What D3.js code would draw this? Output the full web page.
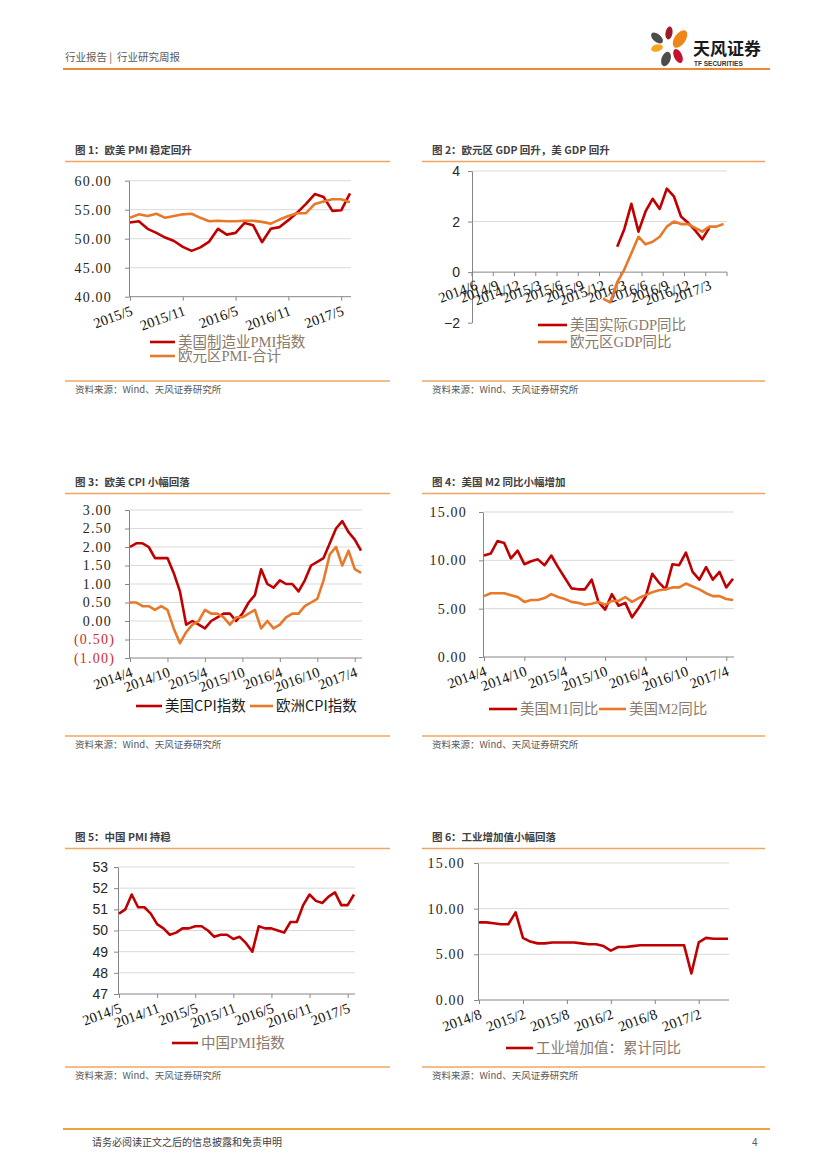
<!DOCTYPE html>
<html>
<head>
<meta charset="utf-8">
<script src="https://cdn.jsdelivr.net/npm/d3@7"></script>
<style>body{margin:0;background:#fff}</style>
</head>
<body>
<svg id="page"></svg>
<script>
// ---- 图1 欧美PMI
const pmiMonths = ["2015/5","2015/6","2015/7","2015/8","2015/9","2015/10","2015/11","2015/12","2016/1","2016/2","2016/3","2016/4","2016/5","2016/6","2016/7","2016/8","2016/9","2016/10","2016/11","2016/12","2017/1","2017/2","2017/3","2017/4","2017/5","2017/6"];
const usPmi = [52.8,53.0,51.7,51.0,50.2,49.6,48.6,47.9,48.5,49.5,51.7,50.7,51.0,52.7,52.3,49.4,51.7,52.0,53.2,54.5,56.0,57.7,57.2,54.8,54.9,57.8];
const euPmi = [53.6,54.2,53.9,54.3,53.6,53.9,54.2,54.3,53.6,53.0,53.1,53.0,53.0,53.1,53.1,52.9,52.6,53.3,53.9,54.4,54.4,56.0,56.4,56.8,56.8,56.3];
const pmiTicks = ["2015/5","2015/11","2016/5","2016/11","2017/5"];
const pmiY = [40,45,50,55,60];

// ---- 图2 GDP
const gdpMonths = ["2014/6","2014/7","2014/8","2014/9","2014/10","2014/11","2014/12","2015/1","2015/2","2015/3","2015/4","2015/5","2015/6","2015/7","2015/8","2015/9","2015/10","2015/11","2015/12","2016/1","2016/2","2016/3","2016/4","2016/5","2016/6","2016/7","2016/8","2016/9","2016/10","2016/11","2016/12","2017/1","2017/2","2017/3","2017/4","2017/5"];
const usGdp = [null,null,null,null,null,null,null,null,null,null,null,null,null,null,null,null,null,null,null,null,1.0,1.7,2.7,1.6,2.4,2.9,2.5,3.3,3.0,2.2,1.95,1.65,1.3,1.75,null,null];
const euGdp = [null,null,null,null,null,null,null,null,null,null,null,null,null,null,null,null,null,null,-1.05,-1.2,-0.4,0.1,0.75,1.4,1.1,1.2,1.4,1.8,2.0,1.9,1.9,1.75,1.6,1.8,1.8,1.9];
const gdpTicks = ["2014/6","2014/9","2014/12","2015/3","2015/6","2015/9","2015/12","2016/3","2016/6","2016/9","2016/12","2017/3"];
const gdpY = [-2,0,2,4];

// ---- 图3 CPI
const cpiMonths = ["2014/4","2014/5","2014/6","2014/7","2014/8","2014/9","2014/10","2014/11","2014/12","2015/1","2015/2","2015/3","2015/4","2015/5","2015/6","2015/7","2015/8","2015/9","2015/10","2015/11","2015/12","2016/1","2016/2","2016/3","2016/4","2016/5","2016/6","2016/7","2016/8","2016/9","2016/10","2016/11","2016/12","2017/1","2017/2","2017/3","2017/4","2017/5"];
const usCpi = [2.0,2.1,2.1,2.0,1.7,1.7,1.7,1.3,0.8,-0.1,0.0,-0.1,-0.2,0.0,0.1,0.2,0.2,0.0,0.2,0.5,0.7,1.4,1.0,0.9,1.1,1.0,1.0,0.8,1.1,1.5,1.6,1.7,2.1,2.5,2.7,2.4,2.2,1.9];
const euCpi = [0.5,0.5,0.4,0.4,0.3,0.4,0.3,-0.2,-0.6,-0.3,-0.1,0.0,0.3,0.2,0.2,0.1,-0.1,0.1,0.1,0.2,0.3,-0.2,0.0,-0.2,-0.1,0.1,0.2,0.2,0.4,0.5,0.6,1.1,1.8,2.0,1.5,1.9,1.4,1.3];
const cpiTicks = ["2014/4","2014/10","2015/4","2015/10","2016/4","2016/10","2017/4"];
const cpiY = [-1,-0.5,0,0.5,1,1.5,2,2.5,3];

// ---- 图4 M1/M2
const mMonths = cpiMonths;
const usM1 = [10.5,10.7,12.0,11.8,10.2,11.0,9.6,9.9,10.1,9.5,10.5,9.3,8.2,7.1,7.0,7.0,8.0,5.7,4.9,6.5,5.3,5.6,4.1,5.1,6.2,8.6,7.7,7.0,9.6,9.5,10.8,8.8,8.0,9.3,8.0,8.8,7.2,8.1];
const usM2 = [6.3,6.6,6.6,6.6,6.4,6.2,5.7,5.9,5.9,6.1,6.5,6.2,6.0,5.7,5.6,5.4,5.5,5.7,5.4,5.8,5.8,6.2,5.7,6.1,6.4,6.7,6.9,7.0,7.2,7.2,7.6,7.3,7.0,6.6,6.3,6.3,6.0,5.9];
const mTicks = cpiTicks;
const mY = [0,5,10,15];

// ---- 图5 中国PMI
const cnMonths = ["2014/5","2014/6","2014/7","2014/8","2014/9","2014/10","2014/11","2014/12","2015/1","2015/2","2015/3","2015/4","2015/5","2015/6","2015/7","2015/8","2015/9","2015/10","2015/11","2015/12","2016/1","2016/2","2016/3","2016/4","2016/5","2016/6","2016/7","2016/8","2016/9","2016/10","2016/11","2016/12","2017/1","2017/2","2017/3","2017/4","2017/5","2017/6"];
const cnPmi = [50.8,51.0,51.7,51.1,51.1,50.8,50.3,50.1,49.8,49.9,50.1,50.1,50.2,50.2,50.0,49.7,49.8,49.8,49.6,49.7,49.4,49.0,50.2,50.1,50.1,50.0,49.9,50.4,50.4,51.2,51.7,51.4,51.3,51.6,51.8,51.2,51.2,51.7];
const cnTicks = ["2014/5","2014/11","2015/5","2015/11","2016/5","2016/11","2017/5"];
const cnY = [47,48,49,50,51,52,53];

// ---- 图6 工业增加值
const ivaMonths = ["2014/8","2014/9","2014/10","2014/11","2014/12","2015/1","2015/2","2015/3","2015/4","2015/5","2015/6","2015/7","2015/8","2015/9","2015/10","2015/11","2015/12","2016/1","2016/2","2016/3","2016/4","2016/5","2016/6","2016/7","2016/8","2016/9","2016/10","2016/11","2016/12","2017/1","2017/2","2017/3","2017/4","2017/5","2017/6"];
const iva = [8.5,8.5,8.4,8.3,8.3,9.6,6.8,6.4,6.2,6.2,6.3,6.3,6.3,6.3,6.2,6.1,6.1,5.9,5.4,5.8,5.8,5.9,6.0,6.0,6.0,6.0,6.0,6.0,6.0,2.9,6.3,6.8,6.7,6.7,6.7];
const ivaTicks = ["2014/8","2015/2","2015/8","2016/2","2016/8","2017/2"];
const ivaY = [0,5,10,15];

const RED = "#c00000", ORANGE = "#e8792a";
const SERIF = "'Liberation Serif','DejaVu Serif',serif";
const SANS = "'Liberation Sans',Arial,sans-serif";
const CJK = "'Noto Sans CJK SC',sans-serif";
const SERIF_CJK = "'Liberation Serif','Noto Sans CJK SC',serif";

const svg = d3.select("#page").attr("width", 827).attr("height", 1169);

// header
svg.append("text").attr("x", 65).attr("y", 61).attr("font-family", CJK).attr("font-size", 10.5)
    .attr("fill", "#595959").attr("xml:space", "preserve").text("行业报告 |  行业研究周报");
svg.append("line").attr("x1", 63).attr("x2", 770).attr("y1", 69).attr("y2", 69)
    .attr("stroke", "#ec8a34").attr("stroke-width", 2);

// logo
const petals = [
    { cx: 657, cy: 38, rx: 4, ry: 7, r: -50, c: "#4d4d4d" },
    { cx: 669, cy: 33, rx: 3.5, ry: 6.5, r: 10, c: "#9b1b2a" },
    { cx: 680, cy: 39, rx: 5.5, ry: 10, r: 35, c: "#f08519" },
    { cx: 657, cy: 48, rx: 6, ry: 3.5, r: -15, c: "#f5a51e" },
    { cx: 666, cy: 59, rx: 4.5, ry: 7.5, r: 20, c: "#4d4d4d" },
    { cx: 678, cy: 56, rx: 4, ry: 7.5, r: -25, c: "#c4122f" }
];
svg.append("g").selectAll("ellipse").data(petals).join("ellipse")
    .attr("cx", d => d.cx).attr("cy", d => d.cy).attr("rx", d => d.rx).attr("ry", d => d.ry)
    .attr("transform", d => `rotate(${d.r},${d.cx},${d.cy})`).attr("fill", d => d.c);
svg.append("text").attr("x", 693).attr("y", 55).attr("font-family", CJK).attr("font-size", 17)
    .attr("font-weight", "bold").attr("fill", "#1a1a1a").text("天风证券");
svg.append("text").attr("x", 694).attr("y", 66).attr("font-family", SANS).attr("font-size", 6.5)
    .attr("font-weight", "bold").attr("fill", "#333").text("TF SECURITIES");

function drawPanel(o) {
    const g = svg.append("g");

    g.append("text").attr("x", o.left + 10).attr("y", o.titleY)
        .attr("font-family", CJK).attr("font-size", 10.5).attr("font-weight", "bold")
        .attr("fill", "#404040").text(o.title);
    g.append("line").attr("x1", o.left).attr("x2", o.right).attr("y1", o.titleY + 7.5).attr("y2", o.titleY + 7.5)
        .attr("stroke", "#f2a462").attr("stroke-width", 1.5);

    const y = d3.scaleLinear().domain(o.yDomain).range([o.yBottom, o.yTop]);
    let x, px;
    if (o.band) {
        x = d3.scaleBand().domain(o.cats).range([o.axisX, o.plotRight]);
        px = c => x(c) + x.bandwidth() / 2;
    } else {
        x = d3.scalePoint().domain(o.cats).range([o.axisX + 1, o.plotRight - 1]);
        px = c => x(c);
    }
    const baseY = y(o.xBase);

    g.append("g").selectAll("line").data(o.grid).join("line")
        .attr("x1", o.axisX).attr("x2", o.plotRight)
        .attr("y1", d => y(d)).attr("y2", d => y(d))
        .attr("stroke", "#d9d9d9").attr("stroke-width", 1);

    const ya = g.append("g").attr("transform", `translate(${o.axisX},0)`)
        .call(d3.axisLeft(y).tickValues(o.yTicks).tickSize(4).tickSizeOuter(0)
            .tickPadding(o.yPad).tickFormat(o.yFmt));
    ya.select(".domain").attr("stroke", "#868686");
    ya.selectAll(".tick line").attr("stroke", "#868686");
    ya.selectAll(".tick text").attr("font-family", o.yFont).attr("font-size", 14)
        .attr("letter-spacing", o.ySpacing || 0)
        .attr("fill", d => (o.negRed && d < 0) ? "#d02b2b" : "#262626")
        .attr("dx", d => (o.negRed && d < 0) ? 3 : 0);

    // x axis
    const xa = g.append("g").attr("transform", `translate(0,${baseY})`);
    xa.append("line").attr("x1", o.axisX).attr("x2", o.plotRight).attr("stroke", "#868686");
    const axis = d3.axisBottom(x).tickValues(o.xTicks).tickSizeOuter(0).tickSize(o.band ? 0 : 4);
    const xt = xa.append("g").call(axis);
    xt.select(".domain").remove();
    xt.selectAll(".tick line").attr("stroke", "#868686");
    xt.selectAll(".tick text").attr("y", 0).attr("dy", 0)
        .attr("transform", `translate(3,${o.xLabelDy}) rotate(-20)`)
        .attr("text-anchor", "end").attr("font-family", SERIF).attr("font-size", 14.5).attr("fill", "#111");
    if (o.band) {
        const marks = o.cats.filter((c, i) => i % 3 === 0).map(c => x(c)).concat([o.plotRight]);
        xa.append("g").selectAll("line").data(marks).join("line")
            .attr("x1", d => d).attr("x2", d => d).attr("y1", 0).attr("y2", 4).attr("stroke", "#868686");
    }

    // lines
    o.series.forEach(s => {
        const line = d3.line().defined(d => d != null)
            .x((d, i) => px(o.cats[i])).y(d => y(d));
        g.append("path").datum(s.values).attr("d", line).attr("fill", "none")
            .attr("stroke", s.color).attr("stroke-width", 2.6)
            .attr("stroke-linejoin", "round").attr("stroke-linecap", "butt");
    });

    // legend
    o.legend.forEach(l => {
        g.append("line").attr("x1", l.x1).attr("x2", l.x2).attr("y1", l.y).attr("y2", l.y)
            .attr("stroke", l.color).attr("stroke-width", 2.6);
        g.append("text").attr("x", l.x2 + 3).attr("y", l.y + 5)
            .attr("font-family", o.legendFont).attr("font-size", 14.5).attr("fill", o.legendColor).text(l.label);
    });

    // source
    g.append("line").attr("x1", o.left).attr("x2", o.right).attr("y1", o.srcY - 12).attr("y2", o.srcY - 12)
        .attr("stroke", "#f2a462").attr("stroke-width", 1.5);
    g.append("text").attr("x", o.left + 10).attr("y", o.srcY)
        .attr("font-family", CJK).attr("font-size", 9.5).attr("fill", "#595959")
        .text("资料来源：Wind、天风证券研究所");
}

const fmt2 = d3.format(".2f");

drawPanel({
    title: "图 1：欧美 PMI 稳定回升", left: 65, right: 390, titleY: 154, srcY: 393,
    axisX: 129, plotRight: 351, yTop: 180.7, yBottom: 296.7, yDomain: [40, 60], xBase: 40,
    yTicks: pmiY, grid: pmiY.slice(1), yFmt: fmt2, yFont: SERIF, ySpacing: 1.2, yPad: 13,
    cats: pmiMonths, xTicks: pmiTicks, xLabelDy: 18,
    series: [{ values: usPmi, color: RED }, { values: euPmi, color: ORANGE }],
    legendFont: SERIF_CJK, legendColor: "#8a7a6c",
    legend: [{ label: "美国制造业PMI指数", color: RED, x1: 150, x2: 175, y: 342 },
             { label: "欧元区PMI-合计", color: ORANGE, x1: 150, x2: 175, y: 356 }]
});

drawPanel({
    title: "图 2：欧元区 GDP 回升，美 GDP 回升", left: 422, right: 765, titleY: 154, srcY: 393,
    axisX: 472, plotRight: 727, yTop: 171, yBottom: 322.7, yDomain: [-2, 4], xBase: 0,
    yTicks: gdpY, grid: [2, 4], yFmt: d3.format("d"), yFont: SANS, yPad: 8,
    cats: gdpMonths, xTicks: gdpTicks, xLabelDy: 17, band: true,
    series: [{ values: usGdp, color: RED }, { values: euGdp, color: ORANGE }],
    legendFont: SERIF_CJK, legendColor: "#8a7a6c",
    legend: [{ label: "美国实际GDP同比", color: RED, x1: 538, x2: 567, y: 325 },
             { label: "欧元区GDP同比", color: ORANGE, x1: 538, x2: 567, y: 342 }]
});

drawPanel({
    title: "图 3：欧美 CPI 小幅回落", left: 65, right: 390, titleY: 486, srcY: 748,
    axisX: 129, plotRight: 362, yTop: 510, yBottom: 658, yDomain: [-1, 3], xBase: -1,
    yTicks: cpiY, grid: cpiY.slice(1), yFont: SERIF, ySpacing: 1.2, yPad: 13, negRed: true,
    yFmt: d => d < 0 ? `(${fmt2(-d)})` : fmt2(d),
    cats: cpiMonths, xTicks: cpiTicks, xLabelDy: 18,
    series: [{ values: usCpi, color: RED }, { values: euCpi, color: ORANGE }],
    legendFont: CJK, legendColor: "#1a1a1a",
    legend: [{ label: "美国CPI指数", color: RED, x1: 136, x2: 162, y: 706 },
             { label: "欧洲CPI指数", color: ORANGE, x1: 250, x2: 273, y: 706 }]
});

drawPanel({
    title: "图 4：美国 M2 同比小幅增加", left: 422, right: 765, titleY: 486, srcY: 748,
    axisX: 483, plotRight: 734, yTop: 512, yBottom: 657, yDomain: [0, 15], xBase: 0,
    yTicks: mY, grid: mY.slice(1), yFmt: fmt2, yFont: SERIF, ySpacing: 1.2, yPad: 12,
    cats: mMonths, xTicks: mTicks, xLabelDy: 18,
    series: [{ values: usM1, color: RED }, { values: usM2, color: ORANGE }],
    legendFont: SERIF_CJK, legendColor: "#8a7a6c",
    legend: [{ label: "美国M1同比", color: RED, x1: 489, x2: 517, y: 709 },
             { label: "美国M2同比", color: ORANGE, x1: 599, x2: 626, y: 709 }]
});

drawPanel({
    title: "图 5：中国 PMI 持稳", left: 65, right: 390, titleY: 841, srcY: 1079,
    axisX: 118, plotRight: 355, yTop: 867, yBottom: 994, yDomain: [47, 53], xBase: 47,
    yTicks: cnY, grid: cnY.slice(1), yFmt: d3.format("d"), yFont: SANS, yPad: 6,
    cats: cnMonths, xTicks: cnTicks, xLabelDy: 18,
    series: [{ values: cnPmi, color: RED }],
    legendFont: SERIF_CJK, legendColor: "#8a7a6c",
    legend: [{ label: "中国PMI指数", color: RED, x1: 172, x2: 198, y: 1043 }]
});

drawPanel({
    title: "图 6：工业增加值小幅回落", left: 422, right: 765, titleY: 841, srcY: 1079,
    axisX: 478, plotRight: 729, yTop: 863, yBottom: 1000, yDomain: [0, 15], xBase: 0,
    yTicks: ivaY, grid: ivaY.slice(1), yFmt: fmt2, yFont: SERIF, ySpacing: 1.2, yPad: 9,
    cats: ivaMonths, xTicks: ivaTicks, xLabelDy: 18,
    series: [{ values: iva, color: RED }],
    legendFont: SERIF_CJK, legendColor: "#8a7a6c",
    legend: [{ label: "工业增加值：累计同比", color: RED, x1: 506, x2: 533, y: 1048 }]
});

// footer
svg.append("line").attr("x1", 63).attr("x2", 770).attr("y1", 1129).attr("y2", 1129)
    .attr("stroke", "#eea33a").attr("stroke-width", 2);
svg.append("text").attr("x", 92).attr("y", 1146).attr("font-family", CJK).attr("font-size", 10)
    .attr("fill", "#404040").text("请务必阅读正文之后的信息披露和免责申明");
svg.append("text").attr("x", 752).attr("y", 1146).attr("font-family", SANS).attr("font-size", 10)
    .attr("fill", "#595959").text("4");
</script>
</body>
</html>
